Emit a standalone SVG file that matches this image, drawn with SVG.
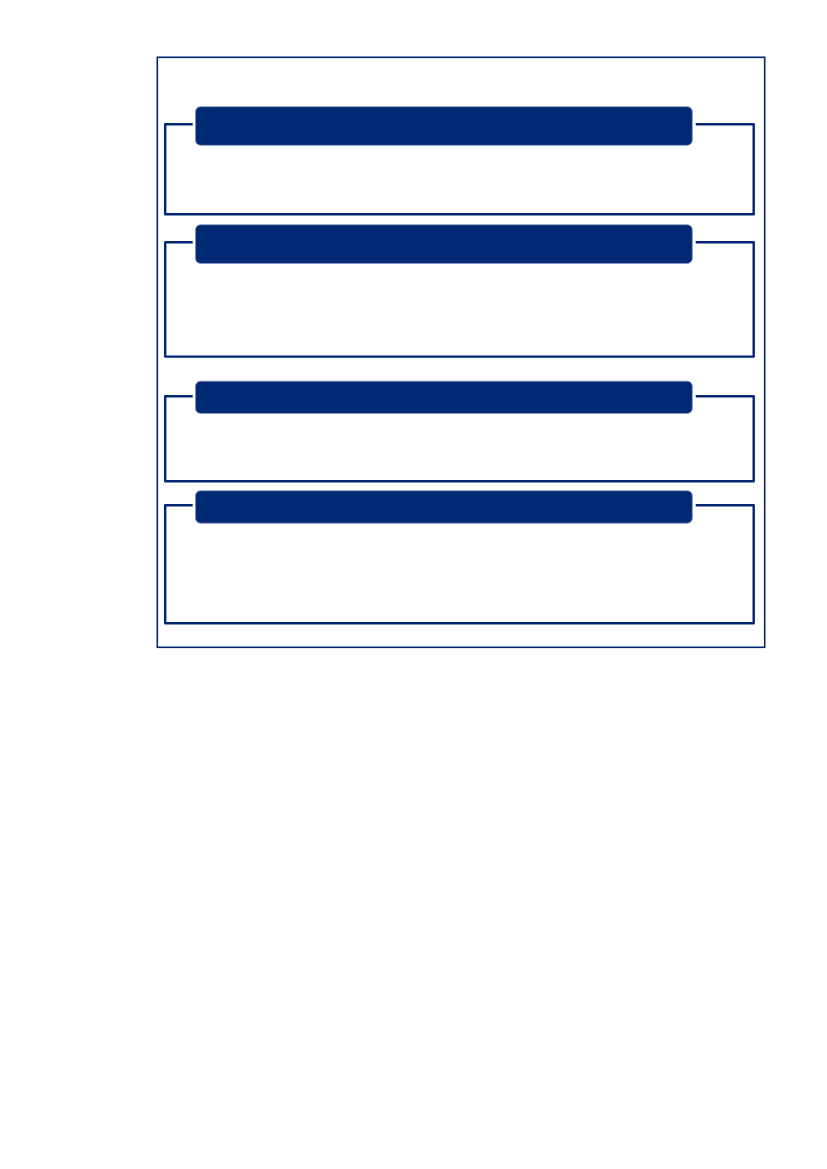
<svg xmlns="http://www.w3.org/2000/svg" width="827" height="1169" viewBox="0 0 827 1169">
<style>
.frame{fill:none;stroke:#002673;stroke-width:1.6}
.bracket{fill:none;stroke:#002673;stroke-width:2.4;stroke-linejoin:round}
.head{fill:#002873;stroke:#7f93bd;stroke-width:0.8}
</style>
<rect width="827" height="1169" fill="#ffffff"/>
<rect id="frame" class="frame" x="157.3" y="57.3" width="607.4" height="590"/>
<g id="connectors">
<path class="bracket" d="M192.7,124.2 H165.2 V214.2 H753.7 V124.2 H695.7"/>
<path class="bracket" d="M192.7,242.3 H165.2 V356.6 H753.7 V242.3 H695.7"/>
<path class="bracket" d="M192.7,396.2 H165.2 V481.2 H753.7 V396.2 H695.7"/>
<path class="bracket" d="M192.7,505.2 H165.2 V623.2 H753.7 V505.2 H695.7"/>
</g>
<g id="section1"><rect class="head" x="195.5" y="106.7" width="496.8" height="38.6" rx="5"/></g>
<g id="section2"><rect class="head" x="195.5" y="224.8" width="496.8" height="38.6" rx="5"/></g>
<g id="section3"><rect class="head" x="195.5" y="381.2" width="496.8" height="32.2" rx="5"/></g>
<g id="section4"><rect class="head" x="195.5" y="490.8" width="496.8" height="32.4" rx="5"/></g>
</svg>
